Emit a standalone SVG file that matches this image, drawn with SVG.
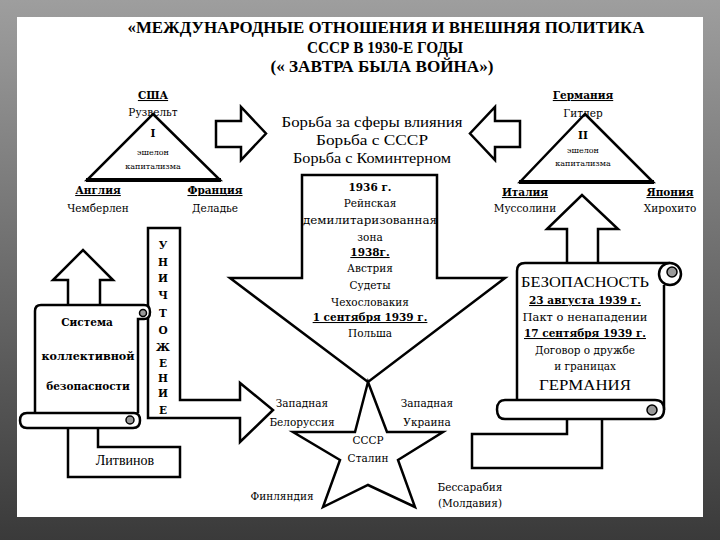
<svg xmlns="http://www.w3.org/2000/svg" width="720" height="540" viewBox="0 0 720 540">
<defs>
<linearGradient id="bg" x1="0" y1="0" x2="0" y2="1">
<stop offset="0" stop-color="#9e9e9e"/>
<stop offset="1" stop-color="#3a3a3a"/>
</linearGradient>
<style>
.sh{fill:#fff;stroke:#000;stroke-width:2.5;stroke-linejoin:miter}
.ln{fill:none;stroke:#000;stroke-width:2.5}
.t{font-family:"DejaVu Serif","Liberation Serif",serif;font-size:10.5px;fill:#000;text-anchor:middle}
.b{font-weight:bold}
.u{text-decoration:underline}
.s{font-size:8px}
.ttl{font-family:"Liberation Serif",serif;font-size:16px;font-weight:bold;text-anchor:middle;fill:#000}
.lt{font-family:"Liberation Serif","DejaVu Serif",serif;font-size:14px;fill:#000;text-anchor:middle}
.curl{fill:#999;stroke:#000;stroke-width:1.5}
</style>
</defs>
<rect x="0" y="0" width="720" height="540" fill="url(#bg)"/>
<rect x="17" y="17" width="686" height="500" fill="#fff"/>

<g id="title">
<text class="ttl" x="386" y="33" textLength="517" lengthAdjust="spacingAndGlyphs">«МЕЖДУНАРОДНЫЕ ОТНОШЕНИЯ И ВНЕШНЯЯ ПОЛИТИКА</text>
<text class="ttl" x="385" y="53" textLength="156" lengthAdjust="spacingAndGlyphs">СССР В 1930-Е ГОДЫ</text>
<text class="ttl" x="382" y="72" textLength="223" lengthAdjust="spacingAndGlyphs">(« ЗАВТРА БЫЛА ВОЙНА»)</text>
</g>

<g id="connectors">
<path class="sh" d="M216,121 H241 V107 L266,133.5 L241,160 V147 H216 Z"/>
<path class="sh" d="M520,121 H495 V107 L470,133.5 L495,160 V147 H520 Z"/>
<path class="sh" d="M302,278 V175 H437 V278 H505 L368,382 L230,278 Z"/>
<path class="sh" d="M148,228 H180 V400 H240 V383 L273,410 L240,442 V418 H148 Z"/>
<path class="sh" d="M68,305 V280 H53 L83,250 L113,280 H100 V305"/>
<path class="sh" d="M567,263 V229 H547 L582,195 L618,229 H598 V263"/>
<path class="sh" d="M68,429 V477 H180 V447 H98 V429"/>
<path class="sh" d="M567,418 V434 H472 V468 H602 V418"/>
</g>

<g id="usa-triangle">
<path class="sh" d="M153,114 L220,180 L87,180 Z" stroke-width="2"/>
<line x1="86" y1="180" x2="221" y2="180" stroke="#000" stroke-width="4"/>
<text class="t b u" x="153" y="99">США</text>
<text class="t" x="153" y="116">Рузвельт</text>
<text class="t b" x="153" y="137">I</text>
<text class="t s" x="153" y="155">эшелон</text>
<text class="t s" x="153" y="169">капитализма</text>
<text class="t b u" x="98" y="194">Англия</text>
<text class="t" x="98" y="212">Чемберлен</text>
<text class="t b u" x="215" y="194">Франция</text>
<text class="t" x="215" y="212">Деладье</text>
</g>

<g id="struggle">
<text class="lt" x="372" y="127" textLength="181" lengthAdjust="spacingAndGlyphs">Борьба за сферы влияния</text>
<text class="lt" x="372" y="145" textLength="112" lengthAdjust="spacingAndGlyphs">Борьба с СССР</text>
<text class="lt" x="372" y="163" textLength="158" lengthAdjust="spacingAndGlyphs">Борьба с Коминтерном</text>
</g>

<g id="germany-triangle">
<path class="sh" d="M585,114 L653,182 L520,182 Z" stroke-width="2"/>
<line x1="519" y1="182" x2="654" y2="182" stroke="#000" stroke-width="4"/>
<text class="t b u" x="583" y="99">Германия</text>
<text class="t" x="583" y="117">Гитлер</text>
<text class="t b" x="583" y="139">II</text>
<text class="t s" x="583" y="153">эшелон</text>
<text class="t s" x="583" y="166">капитализма</text>
<text class="t b u" x="525" y="196">Италия</text>
<text class="t" x="525" y="212">Муссолини</text>
<text class="t b u" x="670" y="196">Япония</text>
<text class="t" x="670" y="212">Хирохито</text>
</g>

<g id="aggression">
<text class="t b" x="370" y="191">1936 г.</text>
<text class="t" x="370" y="207">Рейнская</text>
<text class="t" x="370" y="224" textLength="134" lengthAdjust="spacingAndGlyphs">демилитаризованная</text>
<text class="t" x="370" y="241">зона</text>
<text class="t b u" x="370" y="256">1938г.</text>
<text class="t" x="370" y="272">Австрия</text>
<text class="t" x="370" y="289">Судеты</text>
<text class="t" x="370" y="306">Чехословакия</text>
<text class="t b u" x="370" y="321">1 сентября 1939 г.</text>
<text class="t" x="370" y="337">Польша</text>
</g>

<g id="destruction">
<text class="t b" x="163" y="249">У</text>
<text class="t b" x="163" y="266">Н</text>
<text class="t b" x="163" y="282">И</text>
<text class="t b" x="163" y="299">Ч</text>
<text class="t b" x="163" y="317">Т</text>
<text class="t b" x="163" y="334">О</text>
<text class="t b" x="163" y="351">Ж</text>
<text class="t b" x="163" y="367">Е</text>
<text class="t b" x="163" y="382">Н</text>
<text class="t b" x="163" y="397">И</text>
<text class="t b" x="163" y="414">Е</text>
</g>

<g id="collective-scroll">
<path class="sh" d="M35,413 V311 Q35,305 41,305 H144 Q150,305 150,312 Q150,319 144,319 H138 V413"/>
<circle class="curl" cx="143" cy="313" r="3.5"/>
<path class="sh" d="M27,413 H134 Q140,413 140,420.5 Q140,428 133,428 H27 Q20,428 20,420.5 Q20,413 27,413 Z"/>
<circle class="curl" cx="130" cy="420" r="4"/>
<text class="t b" x="87" y="326">Система</text>
<text class="t b" x="88" y="360" textLength="93" lengthAdjust="spacingAndGlyphs">коллективной</text>
<text class="t b" x="88" y="390">безопасности</text>
</g>

<g id="litvinov">
<text class="lt" x="125" y="465" font-size="13">Литвинов</text>
</g>

<g id="security-scroll">
<path class="sh" d="M517,400 V271 Q517,263 525,263 H670"/>
<circle class="sh" cx="670" cy="274" r="11" stroke-width="2.5"/>
<circle class="curl" cx="672" cy="272" r="5"/>
<line class="ln" x1="664" y1="285" x2="664" y2="410"/>
<path class="sh" d="M505,400 H655 Q664,400 664,409.5 Q664,419 655,419 H505 Q497,419 497,409.5 Q497,400 505,400 Z"/>
<circle class="curl" cx="652" cy="410" r="5"/>
<text class="lt" x="585" y="287" textLength="128" lengthAdjust="spacingAndGlyphs">БЕЗОПАСНОСТЬ</text>
<text class="t b u" x="585" y="304">23 августа 1939 г.</text>
<text class="t" x="585" y="321" textLength="125" lengthAdjust="spacingAndGlyphs">Пакт о ненападении</text>
<text class="t b u" x="585" y="337">17 сентября 1939 г.</text>
<text class="t" x="585" y="354">Договор о дружбе</text>
<text class="t" x="585" y="370">и границах</text>
<text class="lt" x="585" y="390" textLength="92" lengthAdjust="spacingAndGlyphs">ГЕРМАНИЯ</text>
</g>

<g id="ussr-star">
<path class="sh" d="M368,382 L387,432 L443,432 L398,460 L415,507 L368,485 L323,507 L340,460 L293,432 L355,432 Z" stroke-width="2.2"/>
<text class="t" x="368" y="444">СССР</text>
<text class="t" x="368" y="462">Сталин</text>
</g>

<g id="territories">
<text class="t" x="302" y="407">Западная</text>
<text class="t" x="302" y="426">Белоруссия</text>
<text class="t" x="427" y="407">Западная</text>
<text class="t" x="427" y="426">Украина</text>
<text class="t" x="282" y="500">Финляндия</text>
<text class="t" x="470" y="491">Бессарабия</text>
<text class="t" x="470" y="507">(Молдавия)</text>
</g>
</svg>
